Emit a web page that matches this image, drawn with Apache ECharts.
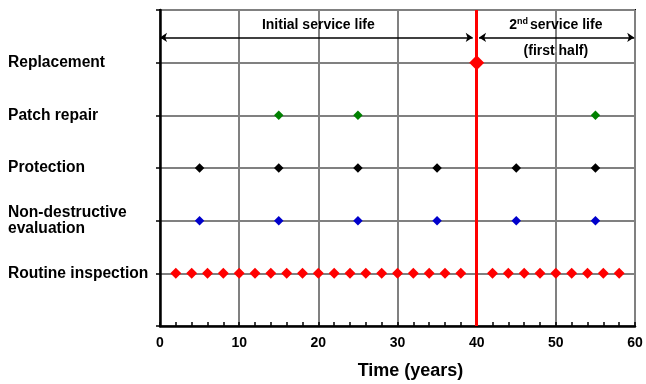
<!DOCTYPE html>
<html>
<head>
<meta charset="utf-8">
<script src="https://cdn.jsdelivr.net/npm/echarts@6/dist/echarts.min.js"></script>
<style>
  html, body { margin: 0; padding: 0; background: #fff; }
  #chart { width: 646px; height: 384px; }
</style>
</head>
<body>
<div id="chart"></div>
<script>
// Maintenance activities along the service life (years)
const rowNames = ['Routine inspection', 'Non-destructive\nevaluation', 'Protection', 'Patch repair', 'Replacement'];
const xTicks = [0, 10, 20, 30, 40, 50, 60];

const routineInspection = [2, 4, 6, 8, 10, 12, 14, 16, 18, 20, 22, 24, 26, 28, 30, 32, 34, 36, 38,
                           42, 44, 46, 48, 50, 52, 54, 56, 58];
const ndEvaluation = [5, 15, 25, 35, 45, 55];
const protection = [5, 15, 25, 35, 45, 55];
const patchRepair = [15, 25, 55];
const replacement = [40];

// Service life periods: [start, end] in years
const initialLife = [0, 39.5];
const secondLife = [40.3, 59.9];
const replacementYear = 40;

const FONT = '"Liberation Sans", Arial, sans-serif';

function rowPoints(years, level) {
  return years.map(function (y) { return [y, level]; });
}

const chart = echarts.init(document.getElementById('chart'), null, { renderer: 'canvas' });

chart.setOption({
  animation: false,
  backgroundColor: '#fff',
  grid: {
    left: 160, right: 11, top: 10, bottom: 58,
    show: true, borderColor: '#000', borderWidth: 2, backgroundColor: 'transparent',
    outerBoundsMode: 'none'
  },
  xAxis: {
    type: 'value',
    min: xTicks[0], max: xTicks[xTicks.length - 1], interval: 10,
    name: 'Time (years)',
    nameLocation: 'middle',
    nameGap: 36,
    nameTextStyle: { fontFamily: FONT, fontWeight: 'bold', fontSize: 18, color: '#000', padding: [0, 0, 0, 26] },
    axisLine: { show: true, lineStyle: { color: '#000', width: 2.5 } },
    axisTick: { show: true, inside: true, length: 4, lineStyle: { color: '#000', width: 1.5 } },
    minorTick: { show: true, splitNumber: 5, length: 4, lineStyle: { color: '#000', width: 1.5 } },
    axisLabel: { fontFamily: FONT, fontWeight: 'bold', fontSize: 14, color: '#000', margin: 10 },
    splitLine: { show: true, lineStyle: { color: '#808080', width: 2 } }
  },
  yAxis: {
    type: 'value',
    min: 0, max: 6, interval: 1,
    axisLine: { show: true, lineStyle: { color: '#000', width: 2.5 } },
    axisTick: { show: true, inside: false, length: 4, lineStyle: { color: '#000', width: 1.5 } },
    axisLabel: {
      fontFamily: FONT, fontWeight: 'bold', fontSize: 15.6, color: '#000',
      align: 'left', margin: 152, lineHeight: 16,
      formatter: function (v) { return rowNames[v - 1] || ''; }
    },
    splitLine: { show: true, lineStyle: { color: '#808080', width: 2 } }
  },
  series: [
    {
      // replacement time marker
      type: 'line',
      data: [],
      z: 3,
      markLine: {
        silent: true,
        animation: false,
        symbol: ['none', 'none'],
        label: { show: false },
        lineStyle: { color: '#ff0000', width: 3, type: 'solid' },
        data: [{ xAxis: replacementYear }]
      }
    },
    {
      // service-life arrows
      type: 'line',
      data: [],
      z: 4,
      markLine: {
        silent: true,
        animation: false,
        symbol: ['arrow', 'arrow'],
        symbolSize: 7,
        label: { show: false },
        lineStyle: { color: '#000', width: 1.5, type: 'solid' },
        data: [
          [{ coord: [initialLife[0], 5.48] }, { coord: [initialLife[1], 5.48] }],
          [{ coord: [secondLife[0], 5.48] }, { coord: [secondLife[1], 5.48] }]
        ]
      }
    },
    {
      name: 'Routine inspection', type: 'scatter', symbol: 'diamond', symbolSize: 11, z: 5,
      itemStyle: { color: '#ff0000', opacity: 1 }, data: rowPoints(routineInspection, 1)
    },
    {
      name: 'Non-destructive evaluation', type: 'scatter', symbol: 'diamond', symbolSize: 9.5, z: 5,
      itemStyle: { color: '#0000cc', opacity: 1 }, data: rowPoints(ndEvaluation, 2)
    },
    {
      name: 'Protection', type: 'scatter', symbol: 'diamond', symbolSize: 9.5, z: 5,
      itemStyle: { color: '#000', opacity: 1 }, data: rowPoints(protection, 3)
    },
    {
      name: 'Patch repair', type: 'scatter', symbol: 'diamond', symbolSize: 9.5, z: 5,
      itemStyle: { color: '#008000', opacity: 1 }, data: rowPoints(patchRepair, 4)
    },
    {
      name: 'Replacement', type: 'scatter', symbol: 'diamond', symbolSize: 15, z: 6,
      itemStyle: { color: '#ff0000', opacity: 1 }, data: rowPoints(replacement, 5)
    },
    {
      // period captions
      type: 'scatter', symbolSize: 1, z: 7, silent: true,
      itemStyle: { color: '#fff', opacity: 1 },
      label: {
        show: true, position: 'inside', align: 'center', verticalAlign: 'middle',
        fontFamily: FONT, fontWeight: 'bold', fontSize: 14, color: '#000',
        textBorderWidth: 0, textBorderColor: 'transparent', opacity: 1,
        formatter: function (p) { return p.name; },
        rich: {
          sup: { fontFamily: FONT, fontWeight: 'bold', fontSize: 9, color: '#000', verticalAlign: 'top', padding: [0, 2, 6, 0] }
        }
      },
      data: [
        { name: 'Initial service life', value: [20, 5.72] },
        { name: '2{sup|nd}service life', value: [50, 5.72] },
        { name: '(first half)', value: [50, 5.22] }
      ]
    }
  ]
});
</script>
</body>
</html>
